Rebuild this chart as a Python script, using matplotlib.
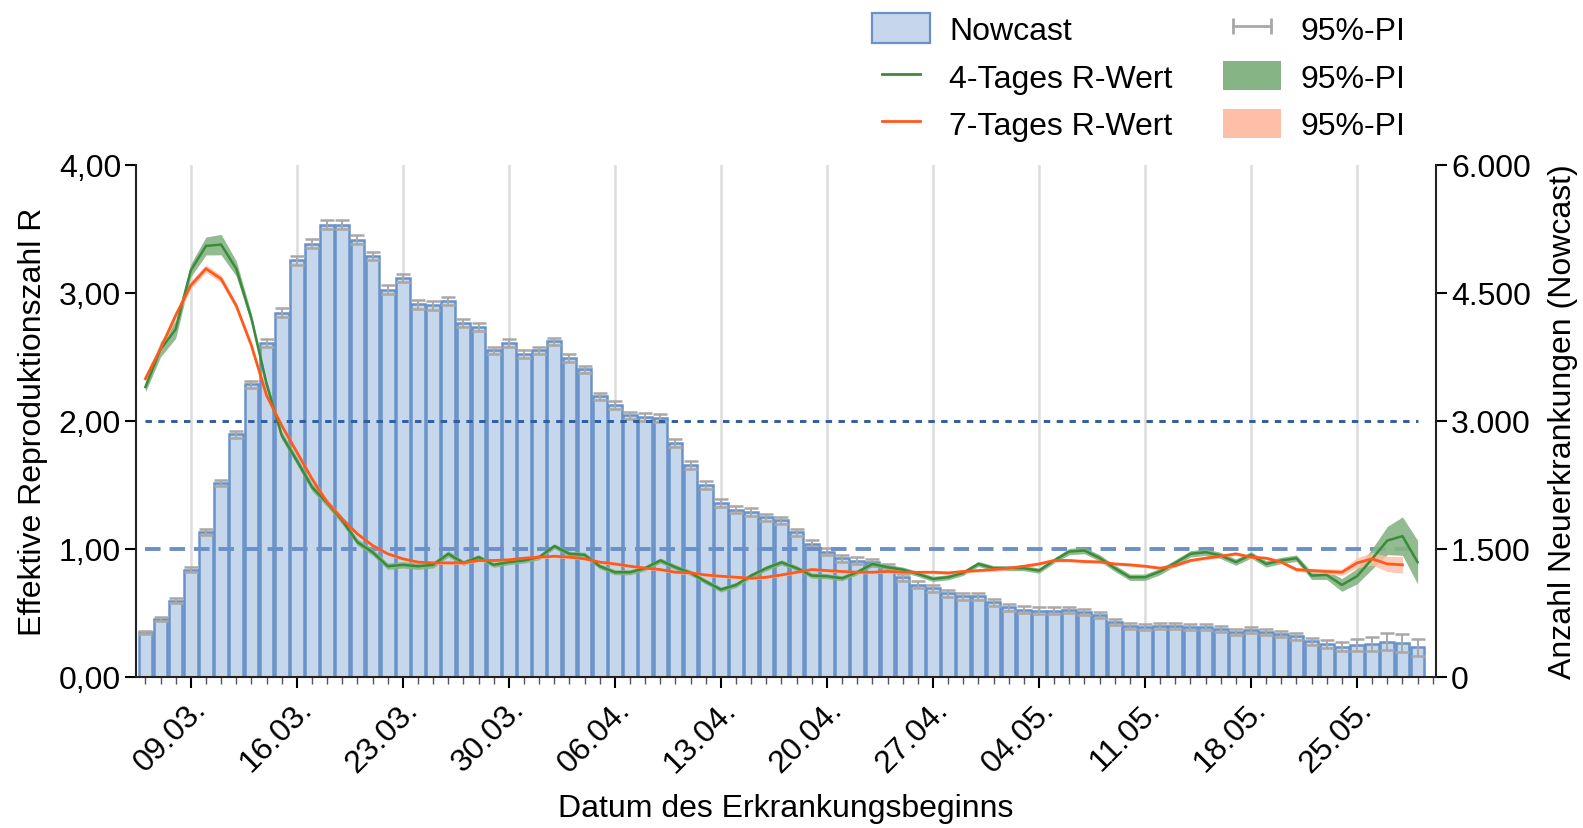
import numpy as np
import pandas as pd
import matplotlib
matplotlib.use('Agg')
import matplotlib.pyplot as plt
import matplotlib.dates as mdates
from matplotlib.patches import Patch
from matplotlib.lines import Line2D
from matplotlib.ticker import FuncFormatter, FixedLocator

plt.rcParams['font.family'] = ['Liberation Sans', 'DejaVu Sans']

# Erkrankungsbeginn 06.03. - 29.05.2020
days = pd.date_range('2020-03-06', '2020-05-29', freq='D')

# Nowcast Neuerkrankungen
nowcast = [524, 680, 895, 1259, 1704, 2271, 2842, 3428, 3913, 4269,
           4882, 5078, 5301, 5301, 5125, 4933, 4538, 4675, 4366, 4354,
           4405, 4150, 4100, 3827, 3913, 3788, 3827, 3932, 3741, 3604,
           3287, 3190, 3065, 3045, 3037, 2744, 2486, 2252, 2041, 1962,
           1931, 1872, 1835, 1697, 1560, 1470, 1392, 1364, 1345, 1286,
           1169, 1079, 1040, 981, 946, 946, 876, 817, 790, 778,
           778, 790, 766, 723, 641, 594, 582, 594, 594, 582,
           582, 563, 532, 555, 524, 504, 477, 418, 387, 356,
           375, 387, 414, 399, 348]
# halbe Breite 95%-PI Nowcast
nowcast_pi = [20, 20, 25, 30, 35, 35, 40, 45, 45, 50,
              50, 50, 50, 50, 50, 50, 50, 50, 50, 50,
              50, 45, 45, 45, 45, 45, 45, 45, 45, 45,
              45, 45, 45, 45, 45, 45, 45, 45, 45, 45,
              45, 40, 40, 40, 40, 40, 40, 40, 40, 40,
              40, 40, 40, 40, 40, 40, 40, 40, 40, 40,
              40, 35, 35, 35, 35, 35, 35, 35, 35, 35,
              35, 35, 35, 35, 35, 35, 40, 40, 45, 55,
              65, 80, 100, 110, 100]

# 4-Tages R-Wert
r4 = [2.265, 2.56, 2.716, 3.177, 3.367, 3.378, 3.19, 2.80, 2.29, 1.887,
      1.69, 1.483, 1.36, 1.222, 1.053, 0.975, 0.865, 0.876, 0.865, 0.876,
      0.962, 0.891, 0.936, 0.876, 0.897, 0.91, 0.936, 1.022, 0.962, 0.954,
      0.865, 0.818, 0.818, 0.85, 0.91, 0.857, 0.813, 0.745, 0.683, 0.719,
      0.792, 0.85, 0.895, 0.85, 0.792, 0.787, 0.771, 0.818, 0.883, 0.857,
      0.839, 0.805, 0.766, 0.779, 0.813, 0.883, 0.85, 0.85, 0.85, 0.831,
      0.91, 0.98, 0.988, 0.93, 0.85, 0.779, 0.779, 0.824, 0.891, 0.962,
      0.975, 0.949, 0.897, 0.954, 0.883, 0.91, 0.928, 0.792, 0.797, 0.719,
      0.787, 0.923, 1.066, 1.10, 0.897]
r4_pi = [0.04, 0.06, 0.07, 0.05, 0.07, 0.08, 0.06, 0.04, 0.03, 0.03,
         0.03, 0.03, 0.03, 0.03, 0.025, 0.025, 0.025, 0.025, 0.025, 0.025,
         0.025, 0.02, 0.02, 0.02, 0.02, 0.02, 0.02, 0.02, 0.02, 0.02,
         0.02, 0.02, 0.02, 0.02, 0.02, 0.02, 0.02, 0.02, 0.02, 0.02,
         0.02, 0.02, 0.02, 0.02, 0.02, 0.02, 0.02, 0.02, 0.02, 0.02,
         0.02, 0.02, 0.02, 0.02, 0.02, 0.02, 0.02, 0.02, 0.02, 0.02,
         0.02, 0.025, 0.025, 0.025, 0.025, 0.025, 0.025, 0.025, 0.025, 0.025,
         0.025, 0.025, 0.025, 0.025, 0.025, 0.025, 0.025, 0.03, 0.035, 0.05,
         0.06, 0.08, 0.11, 0.15, 0.17]

# 7-Tages R-Wert (bis 28.05.)
r7 = [2.33, 2.565, 2.825, 3.06, 3.19, 3.11, 2.90, 2.59, 2.20, 1.965,
      1.757, 1.548, 1.366, 1.235, 1.118, 1.027, 0.962, 0.923, 0.897, 0.891,
      0.891, 0.891, 0.91, 0.91, 0.915, 0.928, 0.936, 0.943, 0.936, 0.923,
      0.897, 0.883, 0.865, 0.85, 0.839, 0.818, 0.813, 0.797, 0.787, 0.779,
      0.771, 0.779, 0.797, 0.818, 0.839, 0.831, 0.824, 0.818, 0.818, 0.824,
      0.818, 0.818, 0.818, 0.813, 0.824, 0.831, 0.839, 0.85, 0.865, 0.883,
      0.91, 0.91, 0.902, 0.899, 0.883, 0.876, 0.865, 0.85, 0.87, 0.91,
      0.928, 0.943, 0.962, 0.936, 0.928, 0.897, 0.839, 0.831, 0.824, 0.818,
      0.891, 0.923, 0.883, 0.876]
r7_pi = [0.02, 0.025, 0.03, 0.03, 0.03, 0.03, 0.025, 0.02, 0.02, 0.02,
         0.02, 0.02, 0.02, 0.012, 0.012, 0.012, 0.012, 0.012, 0.012, 0.012,
         0.012, 0.012, 0.012, 0.012, 0.012, 0.012, 0.012, 0.012, 0.012, 0.012,
         0.012, 0.012, 0.012, 0.012, 0.012, 0.012, 0.012, 0.012, 0.012, 0.012,
         0.012, 0.012, 0.012, 0.012, 0.012, 0.012, 0.012, 0.012, 0.012, 0.012,
         0.012, 0.012, 0.012, 0.012, 0.012, 0.012, 0.012, 0.012, 0.012, 0.012,
         0.012, 0.012, 0.012, 0.012, 0.012, 0.012, 0.012, 0.012, 0.012, 0.012,
         0.012, 0.012, 0.012, 0.012, 0.012, 0.012, 0.015, 0.018, 0.02, 0.025,
         0.04, 0.05, 0.06, 0.065]

x = mdates.date2num(days)
nowcast = np.array(nowcast)
nowcast_pi = np.array(nowcast_pi)
r4 = np.array(r4)
r4_pi = np.array(r4_pi)
r7 = np.array(r7)
r7_pi = np.array(r7_pi)
x7 = x[:len(r7)]

bar_face = '#c6d7eb'
bar_edge = '#6892c9'
green = '#3a8c3a'
green_band = '#86b485'
orange = '#ff5a1e'
orange_band = '#ffbfa6'
pi_grey = '#a8a8a8'
fs = 23

fig = plt.figure(figsize=(15.83, 8.29), dpi=100)
ax = fig.add_axes([0.0861, 0.1822, 0.8209, 0.6176])   # Nowcast (rechte Achse)
axr = ax.twinx()                                          # R-Wert (linke Achse)

# Balken + Fehlerbalken
ax.bar(x, nowcast, width=0.9, color=bar_face, edgecolor=bar_edge, linewidth=1.8, zorder=2)
ax.errorbar(x, nowcast, yerr=nowcast_pi, fmt='none', ecolor=pi_grey,
            elinewidth=1.4, capsize=4.8, capthick=1.8, zorder=3)
ax.set_ylim(0, 6000)
ax.set_xlim(x[0] - 0.6, x[-1] + 1.2)
ax.yaxis.tick_right()
ax.yaxis.set_label_position('right')
ax.yaxis.set_major_locator(FixedLocator([0, 1500, 3000, 4500, 6000]))
ax.yaxis.set_major_formatter(FuncFormatter(lambda v, p: f'{int(v):,}'.replace(',', '.')))
ax.set_ylabel('Anzahl Neuerkrankungen (Nowcast)', fontsize=fs, labelpad=12)

ax.xaxis.set_major_locator(mdates.WeekdayLocator(byweekday=mdates.MO))
ax.xaxis.set_minor_locator(mdates.DayLocator())
ax.xaxis.set_major_formatter(mdates.DateFormatter('%d.%m.'))
ax.grid(axis='x', color='#dcdcdc', linewidth=1.8, zorder=0)
ax.set_axisbelow(True)
plt.setp(ax.get_xticklabels(), rotation=45, ha='right', rotation_mode='anchor')
ax.set_xlabel('Datum des Erkrankungsbeginns', fontsize=fs, labelpad=11)
ax.tick_params(axis='x', which='major', length=8, width=1.5, labelsize=fs, pad=4)
ax.tick_params(axis='x', which='minor', length=5, width=1, colors='#555555')
ax.tick_params(axis='y', length=8, width=1.5, labelsize=fs, pad=3)

# R-Werte
axr.hlines(2, x[0], x[-1], colors='#2f5d9f', linewidth=2.1, linestyles=(0, (2.2, 2.2)), zorder=2)
axr.hlines(1, x[0], x[-1], colors='#6b8fc8', linewidth=2.8, linestyles=(0, (4, 2.3)), zorder=2)
axr.fill_between(x, r4 - r4_pi, r4 + r4_pi, color=green_band, linewidth=0, alpha=0.9, zorder=3)
axr.fill_between(x7, r7 - r7_pi, r7 + r7_pi, color=orange_band, linewidth=0, alpha=0.8, zorder=3)
axr.plot(x, r4, color=green, linewidth=1.8, zorder=4)
axr.plot(x7, r7, color=orange, linewidth=2.0, zorder=5)
axr.set_ylim(0, 4)
axr.yaxis.tick_left()
axr.yaxis.set_label_position('left')
axr.yaxis.set_major_locator(FixedLocator([0, 1, 2, 3, 4]))
axr.yaxis.set_major_formatter(FuncFormatter(lambda v, p: f'{v:.2f}'.replace('.', ',')))
axr.set_ylabel('Effektive Reproduktionszahl R', fontsize=fs, labelpad=8)
axr.tick_params(axis='y', length=8, width=1.5, labelsize=fs, pad=3)

for a in (ax, axr):
    a.spines['top'].set_visible(False)
    for s in a.spines.values():
        s.set_linewidth(1.5)
        s.set_color('#222222')
ax.spines['left'].set_visible(False)
axr.spines['right'].set_visible(False)
axr.spines['bottom'].set_visible(False)

handles = [
    Patch(facecolor=bar_face, edgecolor=bar_edge, linewidth=1.6),
    Line2D([], [], color=green, linewidth=2),
    Line2D([], [], color=orange, linewidth=2),
    Line2D([], [], color=pi_grey, linewidth=2, marker='|', markersize=12, markeredgewidth=2),
    Patch(facecolor=green_band, edgecolor='none'),
    Patch(facecolor=orange_band, edgecolor='none'),
]
labels = ['Nowcast', '4-Tages R-Wert', '7-Tages R-Wert', '95%-PI', '95%-PI', '95%-PI']
fig.legend(handles, labels, loc='upper left', bbox_to_anchor=(0.551, 0.983), ncol=2,
           frameon=False, fontsize=fs, numpoints=2, handlelength=1.8, handleheight=1.05,
           handletextpad=0.6, columnspacing=1.6, labelspacing=0.47, borderpad=0,
           borderaxespad=0)

fig.savefig('out.png', dpi=100)
